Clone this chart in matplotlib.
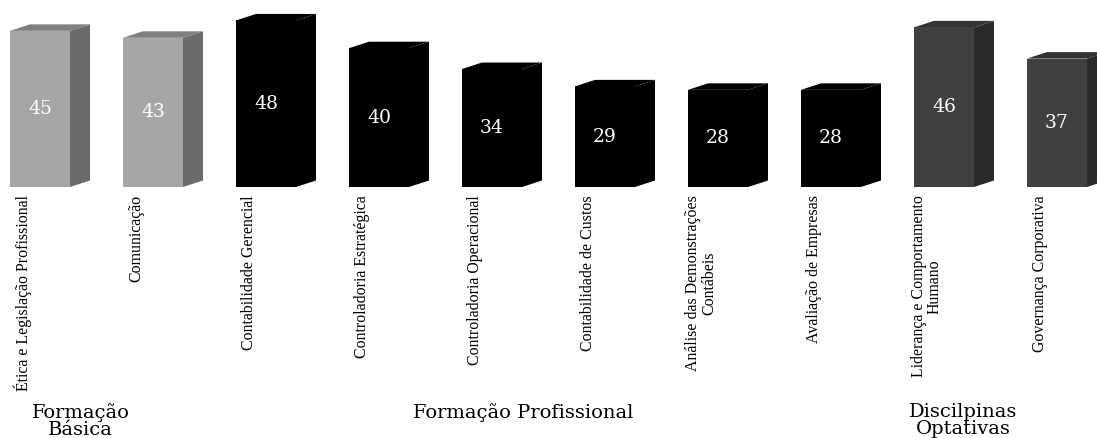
import matplotlib.pyplot as plt
import matplotlib.transforms as mtransforms
from matplotlib.patches import Polygon

# disciplines and number of mentions
disciplinas = ['Ética e Legislação Profissional', 'Comunicação',
               'Contabilidade Gerencial', 'Controladoria Estratégica',
               'Controladoria Operacional', 'Contabilidade de Custos',
               'Análise das Demonstrações\nContábeis', 'Avaliação de Empresas',
               'Liderança e Comportamento\nHumano', 'Governança Corporativa']
valores = [45, 43, 48, 40, 34, 29, 28, 28, 46, 37]
grupo = [0, 0, 1, 1, 1, 1, 1, 1, 2, 2]
grupos = ['Formação\nBásica', 'Formação Profissional', 'Discilpinas\nOptativas']

# colours per group: front, side, top
frente = ['#a6a6a6', '#000000', '#404040']
lado = ['#6b6b6b', '#000000', '#2b2b2b']
topo = ['#808080', '#000000', '#333333']

W, H = 1097, 438
fig = plt.figure(figsize=(W / 100, H / 100), dpi=100)
ax = fig.add_axes([0, 251 / H, 1, 187 / H])
ax.set_xlim(-40 / 113, (W - 40) / 113)
ax.set_ylim(0, 187 / 3.47)

largura = 60 / 113   # bar front width
dx = 20 / 113        # depth, x
dy = 6.5 / 3.47      # depth, y

x = list(range(len(valores)))
bars = ax.bar(x, valores, width=largura, color=[frente[g] for g in grupo],
              edgecolor='none', zorder=3)

for xi, v, g in zip(x, valores, grupo):
    x0, x1 = xi - largura / 2, xi + largura / 2
    ax.add_patch(Polygon([(x1, 0), (x1 + dx, dy), (x1 + dx, v + dy), (x1, v)],
                         closed=True, color=lado[g], lw=0, zorder=2))
    ax.add_patch(Polygon([(x0, v), (x1, v), (x1 + dx, v + dy), (x0 + dx, v + dy)],
                         closed=True, color=topo[g], lw=0, zorder=2))
    ax.text(xi, v / 2, str(v), color='white', ha='center', va='center',
            fontsize=13.5, family='DejaVu Serif', zorder=4)

ax.set_xticks([xi - 0.15 for xi in x])
ax.set_xticklabels(disciplinas, rotation=90, va='top', ha='center',
                   fontsize=11.4, family='Liberation Serif', linespacing=1.0)
ax.tick_params(axis='x', length=0, pad=6)
ax.set_yticks([])
for s in ax.spines.values():
    s.set_visible(False)

# group labels below the discipline names
trans = mtransforms.blended_transform_factory(ax.transData, fig.transFigure)
desloc = [-0.14, -0.22, -0.33]
for k, nome in enumerate(grupos):
    membros = [xi for xi, g in zip(x, grupo) if g == k]
    xc = sum(membros) / len(membros) + desloc[k]
    fig.text(xc, (H - 403) / H, nome, transform=trans, ha='center', va='top',
             fontsize=14, family='DejaVu Serif', linespacing=0.9)

fig.savefig('out.png', dpi=100)
